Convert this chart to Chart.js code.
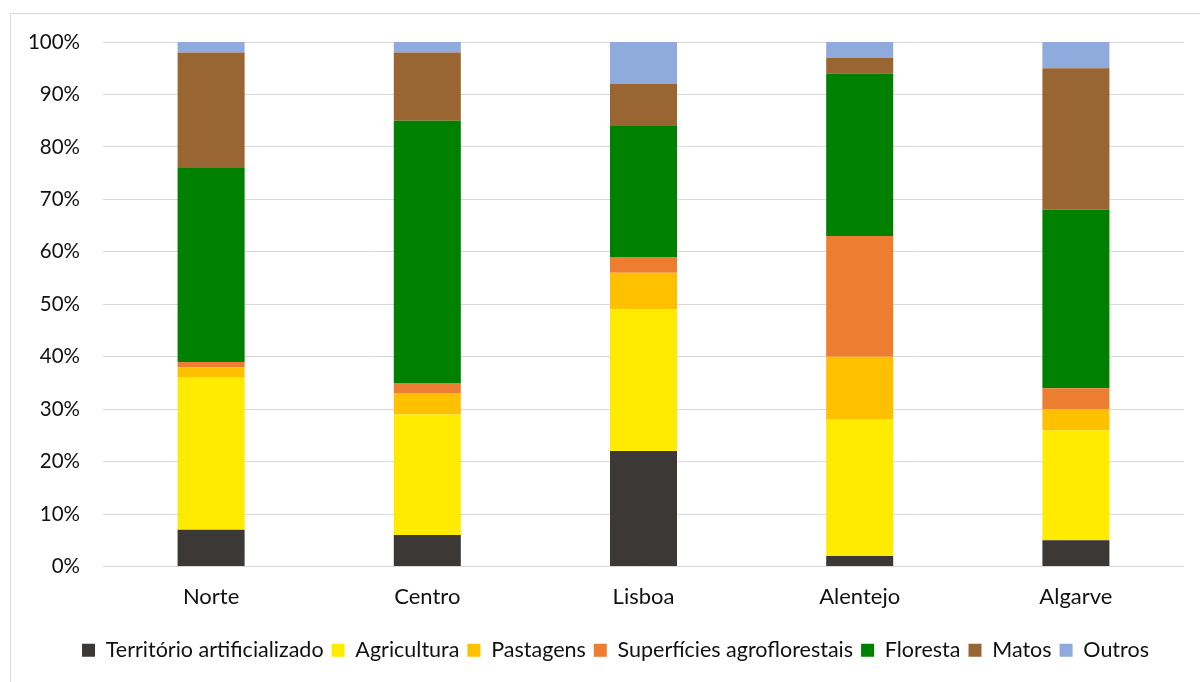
<!DOCTYPE html>
<html><head><meta charset="utf-8">
<script src="https://cdn.jsdelivr.net/npm/chart.js@4.4.1/dist/chart.umd.min.js"></script>
<style>
html,body{margin:0;padding:0;background:#fff;overflow:hidden;}
#wrap{position:relative;width:1200px;height:682px;overflow:hidden;}
#frame{position:absolute;left:10px;top:13px;width:1200px;height:700px;border:1px solid #d9d9d9;box-sizing:border-box;}
canvas{position:absolute;left:0;top:0;}
</style></head>
<body><div id="wrap"><div id="frame"></div><canvas id="c" width="1240" height="682"></canvas></div>
<script>
const categories = ["Norte", "Centro", "Lisboa", "Alentejo", "Algarve"];
const seriesNames = ["Território artificializado", "Agricultura", "Pastagens", "Superfícies agroflorestais", "Floresta", "Matos", "Outros"];
const territorio = [7, 6, 22, 2, 5];
const agricultura = [29, 23, 27, 26, 21];
const pastagens = [2, 4, 7, 12, 4];
const superficies = [1, 2, 3, 23, 4];
const floresta = [37, 50, 25, 31, 34];
const matos = [22, 13, 8, 3, 27];
const outros = [2, 2, 8, 3, 5];
const colors = ["#3b3836", "#ffeb00", "#ffc000", "#ed7d31", "#008000", "#996633", "#8faadc"];
const seriesValues = [territorio, agricultura, pastagens, superficies, floresta, matos, outros];
const yTicks = [0,10,20,30,40,50,60,70,80,90,100];

const FONT = "Lato, 'Open Sans', sans-serif";
const datasets = seriesNames.map((n, i) => ({
  label: n, data: seriesValues[i], backgroundColor: colors[i], borderWidth: 0,
  categoryPercentage: 1.0, barPercentage: 0.31, stack: 's'
}));

new Chart(document.getElementById('c'), {
  type: 'bar',
  data: { labels: categories, datasets },
  options: {
    responsive: false, animation: false, devicePixelRatio: 1,
    layout: { padding: { left: 10, right: 19, top: 42, bottom: 11 } },
    plugins: {
      tooltip: { enabled: false },
      legend: {
        position: 'bottom',
        labels: { font: { family: FONT, size: 21.5 }, color: '#111', boxWidth: 13, boxHeight: 13, padding: 8 }
      }
    },
    scales: {
      x: {
        stacked: true,
        grid: { display: false, drawTicks: false },
        border: { display: false },
        ticks: { font: { family: FONT, size: 22 }, color: '#111', padding: 17 },
        afterFit: s => { s.height = 65; }
      },
      y: {
        stacked: true, min: 0, max: 100,
        afterBuildTicks: s => { s.ticks = yTicks.map(v => ({ value: v })); },
        grid: { color: '#d9d9d9', lineWidth: 1, drawTicks: false },
        border: { display: false },
        ticks: { font: { family: FONT, size: 20.5 }, color: '#111', padding: 23, callback: v => v + '%' },
        afterFit: s => { s.width = 93; }
      },
      yRight: {
        position: 'right', min: 0, max: 100,
        grid: { display: false, drawTicks: false },
        border: { display: false },
        ticks: { display: false },
        afterFit: s => { s.width = 37; }
      }
    }
  }
});
</script></body></html>
